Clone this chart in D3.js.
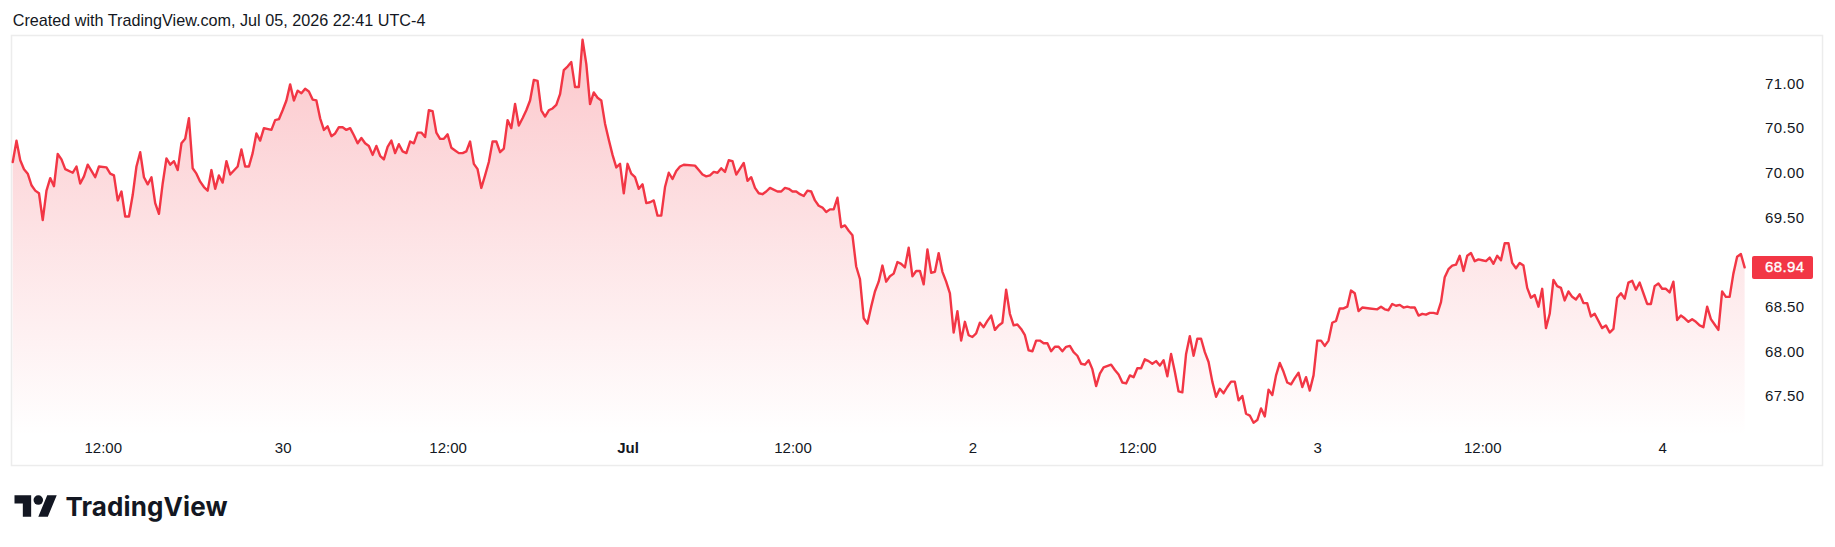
<!DOCTYPE html>
<html><head><meta charset="utf-8">
<script src="https://cdn.jsdelivr.net/npm/d3@7/dist/d3.min.js"></script>
<style>
html,body{margin:0;padding:0;background:#fff;}
svg{display:block;}
</style></head><body>
<svg id="chart" width="1835" height="547"></svg>
<script>
const titleText = "Created with TradingView.com, Jul 05, 2026 22:41 UTC-4";
const brandText = "TradingView";

// 15-minute bar index (trading time) of each reading
const barIndex = [
0,1,2,3,4,5,6,7,8,9,10,11,12,13,14,16,17,18,19,20,21,22,23,25,26,27,28,29,30,31,32,33,34,35,36,37,38,39,40,
41,42,43,44,45,46,47,48,49,50,51,52,53,54,55,56,57,58,60,61,62,63,64,65,66,67,69,70,71,72,73,74,75,76,77,78,79,80,
81,82,83,84,85,86,87,88,89,90,91,92,93,94,95,96,97,98,99,100,101,102,103,104,105,106,107,108,109,110,111,112,113,114,115,116,117,118,119,120,
121,122,123,124,125,126,127,128,129,130,131,132,133,134,135,136,137,138,139,140,141,142,143,144,145,146,147,148,149,150,151,152,153,154,155,156,157,158,159,160,
161,162,163,164,165,166,167,168,169,170,171,172,173,174,175,176,177,178,179,182,183,184,185,186,187,188,189,190,191,192,193,195,196,197,198,199,200,
201,202,204,205,206,207,208,209,210,211,212,213,214,215,216,217,218,219,220,221,222,223,224,225,226,227,228,229,230,231,232,233,234,235,236,237,238,239,240,
241,242,243,244,245,246,247,248,249,250,251,252,253,254,255,256,257,258,259,260,261,262,263,264,265,266,267,268,269,270,271,272,273,274,275,276,277,278,279,280,
281,282,283,284,285,286,287,288,289,290,291,293,294,295,296,297,298,299,300,301,302,303,304,305,306,307,308,309,310,311,312,313,314,315,316,317,318,319,320,
321,322,323,324,325,326,327,328,329,330,331,332,333,334,335,336,337,338,339,340,341,342,343,344,345,346,347,348,349,350,351,352,353,354,355,356,357,358,359,360,
362,364,365,366,367,368,369,370,371,372,373,374,375,376,377,378,379,380,381,382,383,384,385,386,387,388,389,390,391,392,393,394,395,396,397,398,399,400,
401,402,403,404,405,406,407,408,409,410,411,412,413,414,415,416,417,418,419,420,421,422,424,425,426,427,428,429,430,431,432,433,434,435,436,437,438,439,440,
441,442,443,444,445,446,447,448,449,450,451,452,453,454,455,456,457,458,459,460,461,462
];

const closePrice = [
70.12,70.36,70.14,70.04,69.99,69.86,69.80,69.77,69.47,69.80,69.94,69.85,70.21,70.15,70.04,70.00,70.07,69.88,69.96,70.09,70.02,69.95,70.07,70.06,69.99,69.97,69.69,69.79,69.51,69.51,69.75,70.07,70.23,69.95,69.87,69.95,69.66,69.54,69.88,
70.16,70.09,70.13,70.03,70.33,70.38,70.61,70.05,69.99,69.90,69.84,69.80,70.03,69.82,69.97,69.89,70.13,69.98,70.07,70.26,70.07,70.07,70.22,70.44,70.36,70.50,70.48,70.59,70.60,70.70,70.81,70.99,70.81,70.92,70.89,70.94,70.91,70.82,
70.81,70.61,70.48,70.52,70.41,70.44,70.51,70.51,70.48,70.50,70.42,70.33,70.39,70.33,70.30,70.20,70.30,70.19,70.15,70.29,70.36,70.22,70.32,70.24,70.22,70.35,70.33,70.45,70.45,70.40,70.70,70.69,70.45,70.38,70.38,70.43,70.28,70.25,70.22,70.22,
70.24,70.35,70.10,70.04,69.83,69.97,70.12,70.35,70.35,70.23,70.27,70.59,70.50,70.77,70.53,70.61,70.70,70.81,71.04,71.03,70.70,70.63,70.70,70.72,70.76,70.88,71.15,71.19,71.24,70.96,70.96,71.49,71.22,70.77,70.90,70.84,70.81,70.55,70.37,70.20,
70.06,70.10,69.77,70.10,69.99,69.95,69.82,69.87,69.66,69.67,69.69,69.52,69.52,69.84,70.00,69.93,70.02,70.07,70.09,70.08,70.03,69.98,69.96,69.97,70.01,70.00,70.05,70.01,70.14,70.13,69.98,70.11,69.91,69.95,69.83,69.77,69.76,
69.79,69.83,69.79,69.79,69.83,69.82,69.79,69.79,69.76,69.74,69.80,69.79,69.69,69.63,69.61,69.56,69.59,69.59,69.72,69.39,69.41,69.35,69.30,68.95,68.81,68.37,68.31,68.50,68.67,68.78,68.96,68.78,68.84,68.87,69.00,68.98,68.94,69.16,68.84,
68.90,68.90,68.75,69.14,68.88,68.89,69.10,68.89,68.78,68.65,68.21,68.45,68.12,68.33,68.18,68.16,68.20,68.32,68.27,68.34,68.40,68.24,68.29,68.32,68.69,68.42,68.29,68.30,68.25,68.18,68.01,68.00,68.12,68.12,68.09,68.09,68.00,68.05,68.05,68.00,
68.05,68.06,67.99,67.95,67.86,67.85,67.90,67.80,67.61,67.75,67.82,67.85,67.79,67.74,67.65,67.64,67.73,67.71,67.81,67.81,67.91,67.89,67.86,67.89,67.84,67.90,67.72,67.97,67.77,67.55,67.54,67.97,68.17,67.95,68.14,68.14,67.99,67.88,67.66,
67.49,67.58,67.53,67.60,67.66,67.66,67.45,67.50,67.30,67.28,67.20,67.23,67.36,67.27,67.57,67.51,67.73,67.87,67.77,67.65,67.63,67.70,67.76,67.60,67.71,67.56,67.73,68.12,68.12,68.06,68.12,68.32,68.34,68.48,68.48,68.50,68.68,68.65,68.45,68.49,
68.48,68.47,68.50,68.47,68.46,68.53,68.51,68.52,68.49,68.50,68.49,68.49,68.40,68.42,68.41,68.43,68.43,68.42,68.55,68.83,68.92,68.96,68.97,69.07,68.90,69.07,69.10,69.01,69.03,69.02,69.01,69.05,68.98,69.07,69.02,69.21,69.21,68.99,
68.93,68.99,68.96,68.71,68.60,68.63,68.50,68.70,68.26,68.42,68.80,68.73,68.71,68.57,68.67,68.61,68.58,68.64,68.54,68.54,68.39,68.42,68.26,68.29,68.21,68.25,68.60,68.65,68.59,68.77,68.79,68.69,68.77,68.65,68.53,68.53,68.73,68.76,68.70,
68.70,68.66,68.78,68.35,68.40,68.37,68.33,68.36,68.33,68.29,68.27,68.50,68.36,68.30,68.24,68.67,68.61,68.61,68.87,69.06,69.09,68.94
];

const xTickBars = [24, 72, 116, 164, 208, 256, 300, 348, 392, 440];
const xTickLabels = ["12:00", "30", "12:00", "Jul", "12:00", "2", "12:00", "3", "12:00", "4"];
const monthLabels = ["Jul"];
const yTicks = [67.5, 68, 68.5, 69.5, 70, 70.5, 71];

const data = barIndex.map((b, i) => ({ b, v: closePrice[i] }));

const frame = { left: 11.5, top: 35.5, right: 1822.5, bottom: 465.5 };
const pane = { left: 12, right: 1751, top: 36, bottom: 436 };
const RED = "#F23645";
const TEXT = "#131722";
const FONT = "'Liberation Sans', Arial, sans-serif";

const svg = d3.select("#chart");

const x = d3.scaleLinear().domain([-0.2, 463.7]).range([pane.left, pane.right]);
const y = d3.scaleLinear().domain([67.051, 71.532]).range([pane.bottom, pane.top]);

// title
svg.append("text")
  .attr("x", 12.7).attr("y", 26)
  .attr("font-family", FONT).attr("font-size", 16.2)
  .attr("fill", TEXT).text(titleText);

// frame
svg.append("rect")
  .attr("x", frame.left).attr("y", frame.top)
  .attr("width", frame.right - frame.left).attr("height", frame.bottom - frame.top)
  .attr("fill", "#fff").attr("stroke", "#ececec").attr("stroke-width", 1.5);

// gradient
const defs = svg.append("defs");
const grad = defs.append("linearGradient").attr("id", "areaGrad")
  .attr("gradientUnits", "userSpaceOnUse")
  .attr("x1", 0).attr("x2", 0).attr("y1", pane.top).attr("y2", pane.bottom);
grad.append("stop").attr("offset", 0).attr("stop-color", RED).attr("stop-opacity", 0.28);
grad.append("stop").attr("offset", 1).attr("stop-color", RED).attr("stop-opacity", 0.0);

const area = d3.area().x(d => x(d.b)).y0(pane.bottom).y1(d => y(d.v));
const line = d3.line().x(d => x(d.b)).y(d => y(d.v));

svg.append("path").datum(data).attr("d", area).attr("fill", "url(#areaGrad)");
svg.append("path").datum(data).attr("d", line)
  .attr("fill", "none").attr("stroke", RED).attr("stroke-width", 2.4)
  .attr("stroke-linejoin", "round").attr("stroke-linecap", "round");

// x axis
const xAxis = svg.append("g").attr("transform", `translate(0,${pane.bottom})`)
  .call(d3.axisBottom(x).tickValues(xTickBars).tickSize(0).tickPadding(6)
    .tickFormat((d, i) => xTickLabels[i]));
xAxis.select(".domain").remove();
xAxis.selectAll("text")
  .attr("font-family", FONT).attr("font-size", 15).attr("fill", TEXT)
  .attr("font-weight", (d, i) => monthLabels.includes(xTickLabels[i]) ? "bold" : "normal");

// y axis
const yAxis = svg.append("g").attr("transform", `translate(${pane.right},0)`)
  .call(d3.axisRight(y).tickValues(yTicks).tickSize(0).tickPadding(14)
    .tickFormat(d3.format(".2f")));
yAxis.select(".domain").remove();
yAxis.selectAll("text")
  .attr("font-family", FONT).attr("font-size", 15).attr("letter-spacing", 0.4).attr("fill", TEXT);

// last price label
const last = closePrice[closePrice.length - 1];
const ly = y(last);
svg.append("rect")
  .attr("x", pane.right + 1).attr("y", ly - 11.5).attr("width", 61).attr("height", 23)
  .attr("rx", 2).attr("fill", RED);
svg.append("text")
  .attr("x", pane.right + 14).attr("y", ly).attr("dy", "0.34em")
  .attr("font-family", FONT).attr("font-size", 15).attr("letter-spacing", 0.4).attr("fill", "#fff")
  .attr("stroke", "#fff").attr("stroke-width", 0.35)
  .text(d3.format(".2f")(last));

// TradingView logo
const logo = svg.append("g").attr("transform", "translate(14.5,490.5) scale(1.19)").attr("fill", TEXT);
logo.append("path").attr("d", "M14 22H7V11H0V4h14v18zM28 22h-8l7.5-18h8L28 22z");
logo.append("circle").attr("cx", 20).attr("cy", 8).attr("r", 4);
svg.append("text")
  .attr("x", 65.5).attr("y", 516)
  .attr("font-family", "Inter, 'Liberation Sans', sans-serif").attr("font-weight", 700)
  .attr("font-size", 26).attr("fill", TEXT)
  .attr("textLength", 162).attr("lengthAdjust", "spacing")
  .text(brandText);
</script>
</body></html>
